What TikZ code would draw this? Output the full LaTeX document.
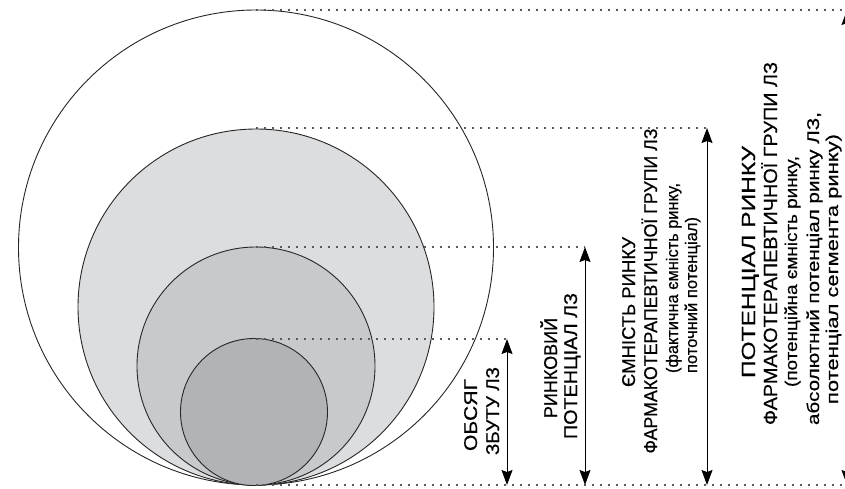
\documentclass[tikz,border=0pt]{standalone}
\usepackage{fontspec}
\usepackage{graphicx}
\setmainfont{Liberation Sans}
\newfontface\heavyface{Liberation Sans}[FakeBold=0.5]
\usetikzlibrary{arrows.meta}
\definecolor{ringA}{HTML}{FFFFFF}
\definecolor{ringB}{HTML}{DCDDDF}
\definecolor{ringC}{HTML}{C8C9CB}
\definecolor{ringD}{HTML}{B2B3B6}
\definecolor{edge}{HTML}{262626}
\definecolor{dots}{HTML}{5A5A5A}
\newcommand\fitlen[2]{\resizebox{#1pt}{\height}{#2}}
\begin{document}
\begin{tikzpicture}[x=1pt,y=-1pt,
  ring/.style={draw=edge, line width=0.9pt},
  guide/.style={draw=dots, line width=1.3pt, dash pattern=on 1.6pt off 6.4pt},
  dimarrow/.style={draw=black, line width=1pt,
    {Stealth[length=15pt,width=11pt,inset=2pt]}-{Stealth[length=15pt,width=11pt,inset=2pt]}},
  caps/.style={rotate=90, anchor=base, inner sep=0pt, font=\heavyface\fontsize{18.5}{21}\selectfont},
  small/.style={rotate=90, anchor=base, inner sep=0pt, font=\heavyface\fontsize{16.8}{20}\selectfont},
  capsD/.style={caps, font=\heavyface\fontsize{19}{21}\selectfont},
  smallD/.style={small, font=\heavyface\fontsize{17}{20}\selectfont}
]
\path[use as bounding box] (0,0) rectangle (845,488);
\clip (0,0) rectangle (845,488);

% circles, all touching at the bottom point
\draw[ring, fill=ringA] (256,247.5) circle[radius=237.5];
\draw[ring, fill=ringB] (256,307) circle[radius=178];
\draw[ring, fill=ringC] (256,366) circle[radius=119];
\draw[ring, fill=ringD] (254,412) circle[radius=73.5];

% guide points
\coordinate (top1) at (256,10);
\coordinate (top2) at (256,128);
\coordinate (top3) at (256,247);
\coordinate (top4) at (256,339);
\coordinate (bot) at (256,485);

\coordinate (a1t) at (507,339);  \coordinate (a1b) at (507,485);
\coordinate (a2t) at (585,247);  \coordinate (a2b) at (585,485);
\coordinate (a3t) at (707,128);  \coordinate (a3b) at (707,485);
\coordinate (a4t) at (847,10);   \coordinate (a4b) at (847,485);

\draw[guide] (top1) -- (a4t);
\draw[guide] (top2) -- (a3t);
\draw[guide] (top3) -- (a2t);
\draw[guide] (top4) -- (a1t);
\draw[guide] (bot) -- (a4b);

\draw[dimarrow] (a1t) -- (a1b);
\draw[dimarrow] (a2t) -- (a2b);
\draw[dimarrow] (a3t) -- (a3b);
\draw[dimarrow] (a4t) -- (a4b);

% labels, one node per printed line
\node[caps] (a1) at (477,415) {\fitlen{72}{ОБСЯГ}};
\node[caps] (a2) at (499,411) {\fitlen{88}{ЗБУТУ ЛЗ}};

\node[caps] (b1) at (557,368) {\fitlen{100}{РИНКОВИЙ}};
\node[caps] (b2) at (577,366) {\fitlen{146}{ПОТЕНЦІАЛ ЛЗ}};

\node[caps] (c1) at (635,312) {\fitlen{150}{ЄМНІСТЬ РИНКУ}};
\node[caps] (c2) at (657,291) {\fitlen{325}{ФАРМАКОТЕРАПЕВТИЧНОЇ ГРУПИ ЛЗ}};
\node[small] (c3) at (678,278) {\fitlen{190}{(фактична ємність ринку,}};
\node[small] (c4) at (697,295) {\fitlen{156}{поточний потенціал)}};

\node[capsD] (d1) at (755,262) {\fitlen{232}{ПОТЕНЦІАЛ РИНКУ}};
\node[capsD] (d2) at (777,243.5) {\fitlen{363}{ФАРМАКОТЕРАПЕВТИЧНОЇ ГРУПИ ЛЗ}};
\node[smallD] (d3) at (797,271.5) {\fitlen{231}{(потенційна ємність ринку,}};
\node[smallD] (d4) at (819,268.5) {\fitlen{313}{абсолютний потенціал ринку ЛЗ,}};
\node[smallD] (d5) at (838,269) {\fitlen{270}{потенціал сегмента ринку)}};
\end{tikzpicture}
\end{document}
